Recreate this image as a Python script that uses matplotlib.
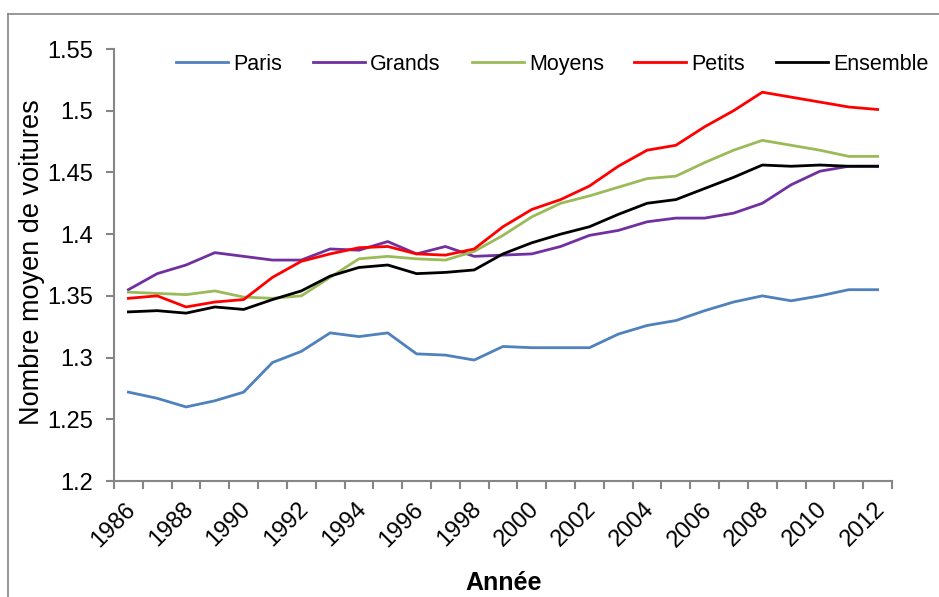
import matplotlib.pyplot as plt
from matplotlib.lines import Line2D
from matplotlib.transforms import ScaledTranslation

plt.rcParams['font.family'] = ['Liberation Sans', 'DejaVu Sans']

years = list(range(1986, 2013))

paris = [1.272, 1.267, 1.260, 1.265, 1.272, 1.296, 1.305, 1.320, 1.317, 1.320,
         1.303, 1.302, 1.298, 1.309, 1.308, 1.308, 1.308, 1.319, 1.326, 1.330,
         1.338, 1.345, 1.350, 1.346, 1.350, 1.355, 1.355]
grands = [1.355, 1.368, 1.375, 1.385, 1.382, 1.379, 1.379, 1.388, 1.387, 1.394,
          1.384, 1.390, 1.382, 1.383, 1.384, 1.390, 1.399, 1.403, 1.410, 1.413,
          1.413, 1.417, 1.425, 1.440, 1.451, 1.455, 1.455]
moyens = [1.353, 1.352, 1.351, 1.354, 1.349, 1.348, 1.350, 1.365, 1.380, 1.382,
          1.380, 1.379, 1.386, 1.399, 1.414, 1.425, 1.431, 1.438, 1.445, 1.447,
          1.458, 1.468, 1.476, 1.472, 1.468, 1.463, 1.463]
petits = [1.348, 1.350, 1.341, 1.345, 1.347, 1.365, 1.378, 1.384, 1.389, 1.390,
          1.384, 1.383, 1.388, 1.406, 1.420, 1.428, 1.439, 1.455, 1.468, 1.472,
          1.487, 1.500, 1.515, 1.511, 1.507, 1.503, 1.501]
ensemble = [1.337, 1.338, 1.336, 1.341, 1.339, 1.347, 1.354, 1.366, 1.373, 1.375,
            1.368, 1.369, 1.371, 1.384, 1.393, 1.400, 1.406, 1.416, 1.425, 1.428,
            1.437, 1.446, 1.456, 1.455, 1.456, 1.455, 1.455]

series = [("Paris", paris, "#4F81BD"),
          ("Grands", grands, "#7030A0"),
          ("Moyens", moyens, "#9BBB59"),
          ("Petits", petits, "#FF0000"),
          ("Ensemble", ensemble, "#000000")]
legend_x = [176, 313, 472, 634, 776]  # left edge of each legend entry, px

fig = plt.figure(figsize=(9.39, 5.97), dpi=100)
ax = fig.add_axes([114 / 939, 1 - 481 / 597, 778 / 939, 432 / 597])

lines = []
for name, vals, col in series:
    ln, = ax.plot(years, vals, color=col, lw=2, label=name)
    lines.append(ln)

ax.set_xlim(years[0] - 0.5, years[-1] + 0.5)
ax.set_ylim(1.2, 1.55)
ax.set_yticks([1.2, 1.25, 1.3, 1.35, 1.4, 1.45, 1.5, 1.55])
ax.set_yticklabels(["1.2", "1.25", "1.3", "1.35", "1.4", "1.45", "1.5", "1.55"])

ax.set_xticks(years[::2])
ax.set_xticklabels([str(y) for y in years[::2]], rotation=45, ha='right',
                   rotation_mode='anchor')
ax.set_xticks([y - 0.5 for y in years] + [years[-1] + 0.5], minor=True)
ax.tick_params(axis='x', which='major', length=0, pad=11, labelsize=17)
ax.tick_params(axis='x', which='minor', length=6, color='#868686', width=1.5)
ax.tick_params(axis='y', length=6, color='#868686', width=1.5, pad=9, labelsize=17)
# nudge the rotated year labels a little left / down
shift = ScaledTranslation(-4 / 100, -2 / 100, fig.dpi_scale_trans)
for lab in ax.get_xticklabels():
    lab.set_transform(lab.get_transform() + shift)

for s in ['top', 'right']:
    ax.spines[s].set_visible(False)
for s in ['left', 'bottom']:
    ax.spines[s].set_color('#868686')
    ax.spines[s].set_linewidth(1.5)

ax.set_ylabel("Nombre moyen de voitures", fontsize=19.5)
ax.yaxis.set_label_coords(45 / 939, 1 - 262 / 597, transform=fig.transFigure)
ax.set_xlabel("Année", fontsize=18, fontweight='bold')
ax.xaxis.set_label_coords(504 / 939, 1 - 571 / 597, transform=fig.transFigure)

# one legend per entry, aligned by their tops so all texts share a line
for ln, (name, _, _), lx in zip(lines, series, legend_x):
    fig.legend([ln], [name], loc='upper left',
               bbox_to_anchor=(lx / 939, 1 - 54 / 597), frameon=False,
               borderpad=0, borderaxespad=0, fontsize=15.5,
               handlelength=2.4, handletextpad=0.25)

fig.add_artist(Line2D([8 / 939, 8 / 939], [0, 1 - 14 / 597], color='#868686', lw=1.2))
fig.add_artist(Line2D([8 / 939, 1], [1 - 14 / 597, 1 - 14 / 597], color='#868686', lw=1.2))

fig.savefig("out.png", dpi=100)
